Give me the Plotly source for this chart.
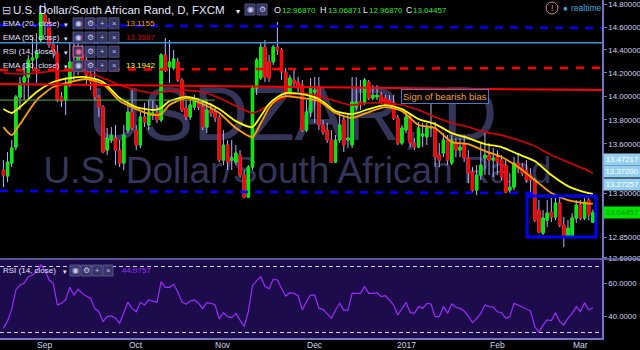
import math
import numpy as np
import pandas as pd
import plotly.graph_objects as go

# ---------------- data ----------------
DATES = pd.bdate_range("2016-08-18", "2017-03-06") + pd.Timedelta(hours=12)

OPEN = [13.386, 13.337, 13.443, 13.574, 13.993, 14.121, 14.164, 14.311, 14.329, 14.486,
        14.708, 14.645, 14.442, 14.372, 13.993, 13.967, 14.095, 14.294, 14.224, 14.355,
        14.311, 14.181, 14.138, 13.993, 13.908, 13.549, 13.632, 13.648, 13.549, 13.443,
        13.715, 13.866, 13.715, 13.591, 13.824, 13.757, 13.849, 13.858, 13.799, 14.355,
        14.250, 14.242, 14.294, 14.138, 13.900, 13.824, 13.908, 13.950, 13.908, 13.740,
        13.883, 13.866, 13.816, 13.467, 13.591, 13.467, 13.451, 13.508, 13.345, 13.168,
        13.410, 14.069, 14.155, 14.424, 14.294, 14.294, 14.424, 14.398, 14.207, 14.035,
        14.138, 14.121, 14.095, 13.715, 13.866, 14.035, 14.069, 13.757, 13.715, 13.632,
        13.451, 13.632, 13.799, 13.632, 13.591, 13.908, 13.950, 13.950, 14.121, 13.984,
        13.993, 14.010, 13.984, 13.967, 13.942, 13.816, 13.607, 13.715, 13.824, 13.607,
        13.574, 13.665, 13.657, 13.732, 13.732, 13.508, 13.525, 13.632, 13.443, 13.615,
        13.549, 13.607, 13.484, 13.369, 13.224, 13.345, 13.484, 13.508, 13.467, 13.492,
        13.467, 13.426, 13.224, 13.248, 13.443, 13.410, 13.386, 13.345, 13.305, 13.064,
        12.883, 12.985, 13.048, 13.009, 13.120, 12.946, 12.852, 12.852, 13.001, 13.104,
        13.001, 13.144, 12.96870]
HIGH = [13.467, 13.533, 13.632, 14.010, 14.164, 14.285, 14.355, 14.512, 14.548, 14.797,
        14.815, 14.681, 14.486, 14.442, 14.035, 14.164, 14.460, 14.548, 14.548, 14.442,
        14.398, 14.250, 14.250, 14.010, 13.925, 13.732, 13.740, 13.757, 13.632, 13.757,
        13.967, 14.052, 13.757, 13.866, 13.942, 13.967, 13.967, 13.925, 14.372, 14.504,
        14.486, 14.398, 14.329, 14.155, 13.967, 13.967, 14.010, 13.984, 13.967, 13.967,
        13.942, 13.900, 13.841, 13.715, 13.632, 13.632, 13.591, 13.549, 13.386, 13.426,
        14.095, 14.329, 14.468, 14.486, 14.355, 14.442, 14.645, 14.416, 14.242, 14.181,
        14.224, 14.164, 14.138, 13.967, 14.155, 14.164, 14.164, 13.799, 13.774, 13.715,
        13.673, 13.858, 13.841, 13.858, 14.164, 14.164, 14.138, 14.155, 14.138, 14.095,
        14.095, 14.035, 14.010, 14.010, 14.010, 13.841, 13.757, 13.866, 13.858, 13.648,
        13.782, 13.774, 13.774, 13.984, 13.782, 13.607, 13.690, 13.673, 13.673, 13.648,
        13.648, 13.673, 13.549, 13.410, 13.426, 13.607, 13.690, 13.607, 13.566, 13.549,
        13.508, 13.467, 13.361, 13.492, 13.525, 13.443, 13.467, 13.402, 13.321, 13.144,
        13.064, 13.144, 13.160, 13.160, 13.160, 13.009, 12.985, 13.040, 13.144, 13.144,
        13.160, 13.160, 13.06871]
LOW = [13.248, 13.288, 13.410, 13.549, 13.883, 13.967, 13.984, 14.224, 14.112, 14.468,
       14.530, 14.416, 14.329, 13.950, 13.908, 13.841, 14.078, 14.138, 14.181, 14.242,
       14.095, 14.052, 13.967, 13.824, 13.525, 13.508, 13.607, 13.426, 13.410, 13.386,
       13.690, 13.715, 13.549, 13.566, 13.740, 13.715, 13.799, 13.774, 13.782, 14.207,
       14.112, 14.224, 14.121, 13.866, 13.799, 13.799, 13.883, 13.883, 13.715, 13.690,
       13.824, 13.782, 13.451, 13.426, 13.386, 13.386, 13.426, 13.321, 13.160, 13.160,
       13.386, 14.010, 14.138, 14.121, 14.121, 14.268, 14.355, 14.138, 14.010, 14.010,
       14.069, 14.035, 13.698, 13.698, 13.824, 13.774, 13.715, 13.673, 13.607, 13.443,
       13.443, 13.607, 13.533, 13.566, 13.566, 13.883, 13.883, 13.925, 13.967, 13.967,
       13.967, 13.934, 13.925, 13.900, 13.799, 13.591, 13.591, 13.690, 13.574, 13.549,
       13.566, 13.574, 13.591, 13.657, 13.410, 13.410, 13.492, 13.426, 13.426, 13.492,
       13.492, 13.451, 13.280, 13.200, 13.184, 13.305, 13.345, 13.345, 13.329, 13.345,
       13.305, 13.200, 13.200, 13.224, 13.361, 13.337, 13.288, 13.200, 12.969, 12.883,
       12.867, 12.930, 12.969, 12.985, 12.930, 12.774, 12.844, 12.844, 12.961, 12.985,
       12.985, 12.985, 12.96870]
CLOSE = [13.345, 13.451, 13.566, 13.993, 14.112, 14.164, 14.311, 14.329, 14.381, 14.725,
         14.645, 14.442, 14.381, 13.967, 13.959, 14.095, 14.294, 14.224, 14.355, 14.311,
         14.181, 14.121, 13.993, 13.908, 13.533, 13.648, 13.673, 13.549, 13.443, 13.673,
         13.866, 13.732, 13.591, 13.824, 13.782, 13.866, 13.858, 13.799, 14.355, 14.224,
         14.294, 14.320, 14.138, 13.883, 13.824, 13.925, 13.967, 13.908, 13.740, 13.883,
         13.858, 13.816, 13.467, 13.591, 13.451, 13.484, 13.525, 13.345, 13.168, 13.410,
         14.069, 14.311, 14.424, 14.164, 14.155, 14.424, 14.398, 14.207, 14.035, 14.155,
         14.112, 14.069, 13.715, 13.866, 14.069, 14.052, 13.757, 13.698, 13.632, 13.451,
         13.632, 13.757, 13.591, 13.648, 13.950, 13.950, 13.934, 14.138, 13.984, 14.010,
         14.010, 13.950, 13.942, 13.917, 13.816, 13.607, 13.732, 13.824, 13.607, 13.574,
         13.732, 13.682, 13.732, 13.740, 13.492, 13.467, 13.632, 13.467, 13.632, 13.549,
         13.574, 13.484, 13.361, 13.224, 13.345, 13.426, 13.508, 13.467, 13.484, 13.451,
         13.329, 13.208, 13.248, 13.443, 13.402, 13.361, 13.305, 13.305, 12.985, 12.891,
         13.001, 13.040, 13.009, 13.120, 12.946, 12.852, 12.922, 13.001, 13.104, 13.001,
         13.128, 13.025, 13.04457]

EMA_IDX = [0, 2, 4, 8, 12, 16, 20, 24, 28, 32, 36, 38, 40, 44, 48, 52, 56, 60, 62, 64, 66,
           68, 72, 76, 80, 84, 88, 92, 96, 100, 104, 108, 112, 116, 120, 124, 128, 132, 136,
           140, 142]
EMA30 = [13.891, 13.858, 13.908, 14.035, 14.121, 14.155, 14.164, 14.121, 13.984, 13.908,
         13.883, 13.900, 13.959, 13.993, 13.959, 13.891, 13.790, 13.740, 13.832, 13.934,
         13.993, 14.027, 14.018, 13.976, 13.874, 13.849, 13.891, 13.925, 13.891, 13.807,
         13.765, 13.690, 13.648, 13.599, 13.574, 13.516, 13.459, 13.345, 13.256, 13.208,
         13.1942]
EMA20 = [13.740, 13.673, 13.765, 13.967, 14.078, 14.121, 14.147, 14.104, 13.959, 13.891,
         13.841, 13.849, 13.925, 13.984, 13.934, 13.858, 13.732, 13.657, 13.774, 13.900,
         13.976, 14.001, 13.984, 13.959, 13.858, 13.816, 13.866, 13.908, 13.874, 13.757,
         13.732, 13.615, 13.599, 13.541, 13.492, 13.410, 13.305, 13.200, 13.144, 13.120,
         13.1155]
EMA55_IDX = [0, 4, 8, 12, 16, 20, 24, 28, 32, 36, 40, 44, 48, 52, 56, 60, 62, 64, 68, 72,
             76, 80, 84, 88, 92, 96, 100, 104, 108, 112, 116, 120, 124, 128, 132, 136, 140, 142]
EMA55 = [14.198, 14.190, 14.198, 14.216, 14.216, 14.207, 14.155, 14.095, 14.052, 14.027,
         14.044, 14.052, 14.035, 13.984, 13.917, 13.858, 13.883, 13.925, 13.993, 14.027,
         14.001, 13.959, 13.925, 13.942, 13.942, 13.925, 13.883, 13.824, 13.774, 13.740,
         13.698, 13.673, 13.632, 13.582, 13.508, 13.451, 13.394, 13.3587]

RSI = [32.5, 37.0, 44.0, 55.8, 58.8, 59.8, 63.8, 64.8, 66.9, 70.9,
       67.9, 61.8, 59.8, 46.7, 47.7, 49.7, 57.4, 52.7, 56.2, 53.7,
       52.0, 50.7, 44.6, 42.6, 36.6, 39.6, 40.0, 38.6, 35.6, 42.6,
       48.3, 44.6, 42.6, 48.3, 46.7, 49.7, 49.1, 48.3, 60.8, 57.4,
       57.4, 59.2, 54.7, 48.7, 47.1, 49.1, 49.7, 47.7, 44.6, 48.1,
       47.7, 46.7, 38.2, 42.0, 39.6, 39.0, 41.6, 37.6, 33.5, 42.6,
       58.2, 61.4, 63.8, 58.0, 56.5, 62.2, 61.8, 56.8, 52.1, 54.1,
       53.7, 52.3, 43.6, 48.7, 52.7, 52.7, 44.6, 44.0, 41.6, 38.6,
       43.6, 47.7, 43.6, 43.6, 53.7, 53.7, 53.7, 57.8, 53.7, 53.7,
       54.1, 51.7, 52.3, 49.7, 46.7, 40.6, 44.6, 48.3, 42.0, 41.6,
       45.7, 44.6, 47.7, 47.3, 39.6, 39.6, 45.7, 41.6, 47.3, 45.3,
       44.6, 43.0, 40.0, 36.0, 38.5, 41.6, 46.7, 45.7, 45.3, 42.6,
       42.0, 38.6, 39.6, 47.7, 46.7, 45.5, 44.6, 43.0, 33.5, 30.1,
       34.5, 37.6, 37.2, 42.0, 36.6, 34.5, 38.6, 41.6, 45.7, 42.6,
       48.1, 43.6, 44.9757]

MONTH_IDX = [10, 32, 53, 75, 97, 119, 139]
MONTH_LABELS = ["Sep", "Oct", "Nov", "Dec", "2017", "Feb", "Mar"]
PRICE_TICKS = [14.8, 14.6, 14.4, 14.2, 14.0, 13.8, 13.6, 13.2, 12.85, 12.69]
RSI_TICKS = [60, 40]
RSI_BANDS = [70, 30]
PRICE_TAGS = [13.47217, 13.37200, 13.27257]
LAST_PRICE = 13.04457

# drawings (price levels)
TOP_BLUE = [14.619, 14.592]
MID_BLUE = [14.462, 14.462]
RED_DASH = [14.224, 14.244]
RED_LINE = [14.104, 14.052]
GREEN_LINE = [13.967, 13.967]
GREEN_END_IDX = 51
LOW_BLUE = [13.218, 13.200]
LOW_BLUE_END_IDX = 128
BOX_PRICE = [13.176, 12.852]
BOX_IDX = [126, 142]
NOTE_PRICE = 14.0
NOTE_IDX = 106

LEGEND_ROWS = [("EMA (20, close)", "13.1155", "#ff9900"),
               ("EMA (55, close)", "13.3587", "#d00000"),
               ("RSI (14, close)", "", ""),
               ("EMA (30, close)", "13.1942", "#ffff00")]

# ---------------- styling ----------------
FONT = "Liberation Sans, Arial, sans-serif"
AXIS = "#7474c4"
TICKTXT = "#d2d2f4"
WICK = "#b4b4ff"
UP = "#00ee00"
DOWN = "#ff0000"
RSI_C = "#9d2bff"
RSI_BG = "#1c0c4c"
WM = "#35355a"

PW, PH = 602, 338


def xp(x):
    return x / PW


def yp(y):
    return 1 - y / PH


def d(ts):
    return pd.Timestamp(ts).strftime("%Y-%m-%d %H:%M:%S")


X0 = DATES[0] - pd.Timedelta(days=0.82)
X1 = DATES[-1] + pd.Timedelta(days=2.2)

o = np.array(OPEN)
c = np.array(CLOSE)

fig = go.Figure()
# wicks (drawn underneath)
fig.add_trace(go.Candlestick(
    x=DATES, open=OPEN, high=HIGH, low=LOW, close=CLOSE,
    increasing=dict(line=dict(color=WICK, width=1), fillcolor=WICK),
    decreasing=dict(line=dict(color=WICK, width=1), fillcolor=WICK),
    hoverinfo="skip", showlegend=False))
# bodies
fig.add_trace(go.Candlestick(
    x=DATES, open=OPEN, close=CLOSE, high=np.maximum(o, c), low=np.minimum(o, c),
    increasing=dict(line=dict(color=UP, width=1), fillcolor=UP),
    decreasing=dict(line=dict(color=DOWN, width=1), fillcolor=DOWN),
    hoverinfo="skip", showlegend=False))

fig.add_trace(go.Scatter(x=[DATES[i] for i in EMA55_IDX], y=EMA55, mode="lines",
                         line=dict(color="#dd0000", width=1.6, shape="spline", smoothing=0.6),
                         showlegend=False, hoverinfo="skip"))
fig.add_trace(go.Scatter(x=[DATES[i] for i in EMA_IDX], y=EMA30, mode="lines",
                         line=dict(color="#ffff00", width=1.8, shape="spline", smoothing=0.6),
                         showlegend=False, hoverinfo="skip"))
fig.add_trace(go.Scatter(x=[DATES[i] for i in EMA_IDX], y=EMA20, mode="lines",
                         line=dict(color="#ffa000", width=1.8, shape="spline", smoothing=0.6),
                         showlegend=False, hoverinfo="skip"))
fig.add_trace(go.Scatter(x=DATES, y=RSI, mode="lines", xaxis="x2", yaxis="y2",
                         line=dict(color=RSI_C, width=1.2), showlegend=False, hoverinfo="skip"))

shapes = []
annotations = []

# RSI pane background + bands
shapes.append(dict(type="rect", xref="paper", yref="y2 domain", x0=0, x1=1, y0=0, y1=1,
                   fillcolor=RSI_BG, line=dict(width=0), layer="below"))
for b in RSI_BANDS:
    shapes.append(dict(type="line", xref="paper", yref="y2", x0=0, x1=1, y0=b, y1=b,
                       line=dict(color="#d0d0f0", width=1, dash="4px,3px"), layer="below"))

# pane separator running under the price scale too
shapes.append(dict(type="line", xref="paper", yref="paper", x0=0, x1=640 / PW,
                   y0=yp(259), y1=yp(259), line=dict(color=AXIS, width=1.5)))

# watermarks
shapes.append(dict(type="rect", xref="paper", yref="paper", x0=xp(70), x1=xp(515),
                   y0=yp(145), y1=yp(68), line=dict(width=0), fillcolor="rgba(0,0,0,0)",
                   layer="below",
                   label=dict(text="USDZAR, D", textposition="middle center",
                              font=dict(size=76, color=WM, family=FONT))))
shapes.append(dict(type="rect", xref="paper", yref="paper", x0=xp(20), x1=xp(575),
                   y0=yp(186), y1=yp(146), line=dict(width=0), fillcolor="rgba(0,0,0,0)",
                   layer="below",
                   label=dict(text="U.S. Dollar/South African Rand", textposition="middle center",
                              font=dict(size=37, color=WM, family=FONT))))

# drawings
def level(p, color, width, dash=None, x_end=None):
    shapes.append(dict(type="line", xref="x", yref="y", x0=d(X0), x1=d(x_end if x_end is not None else X1),
                       y0=p[0], y1=p[1], line=dict(color=color, width=width, dash=dash or "solid")))

level(TOP_BLUE, "#0000ff", 2.5, "8px,7px")
level(MID_BLUE, "#3a96dc", 1.5)
level(RED_DASH, "#ff0000", 2.5, "8px,8px")
level(RED_LINE, "#ff0000", 2)
level(GREEN_LINE, "#4caf50", 1, x_end=DATES[GREEN_END_IDX])
level(LOW_BLUE, "#0000ff", 2.5, "8px,7px", x_end=DATES[LOW_BLUE_END_IDX] + pd.Timedelta(days=0.3))

shapes.append(dict(type="rect", xref="x", yref="y",
                   x0=d(DATES[BOX_IDX[0]] + pd.Timedelta(days=0.15)),
                   x1=d(DATES[BOX_IDX[1]] + pd.Timedelta(days=0.75)),
                   y0=BOX_PRICE[0], y1=BOX_PRICE[1], line=dict(color="#0000ff", width=3)))

annotations.append(dict(xref="x", yref="y", x=d(DATES[NOTE_IDX] + pd.Timedelta(days=0.49)),
                        y=math.log10(NOTE_PRICE), text="Sign of bearish bias", showarrow=False,
                        font=dict(size=9.5, color="#f0a020", family=FONT), bgcolor="#000000",
                        bordercolor="#4a78d0", borderwidth=1, borderpad=1))


def txt(x, y, s, color, size, anchor="left", **kw):
    annotations.append(dict(xref="paper", yref="paper", x=xp(x), y=yp(y), text=s, showarrow=False,
                            xanchor=anchor, yanchor="middle",
                            font=dict(size=size, color=color, family=FONT), **kw))


def icon(x, y, glyph, color="#c8c8ec", edge="#5a5a92"):
    shapes.append(dict(type="rect", xref="paper", yref="paper", x0=xp(x), x1=xp(x + 10),
                       y0=yp(y + 5.5), y1=yp(y - 5.5), fillcolor="#3a3a6c", opacity=0.9,
                       line=dict(color=edge, width=1)))
    txt(x + 5, y, glyph, color, 7.5, anchor="center")


GLYPHS = ["◉", "⚙", "+", "×"]

# title row
txt(0, 10, "⊟", "#c8c8e8", 11)
txt(11, 10, "U.S. Dollar/South African Rand, D, FXCM", "#e6e6ff", 11.5)
txt(234, 11, "▾", "#e6e6ff", 8)
icon(245, 9.5, GLYPHS[0])
icon(257, 9.5, GLYPHS[1])
for lx, lab, vx, val in [(272, "O", 280, "12.96870"), (318, "H", 326, "13.06871"),
                         (361, "L", 367, "12.96870"), (404, "C", 411, "13.04457")]:
    txt(lx, 10, lab, "#e6e6ff", 9)
    txt(vx, 10, val, "#22ee22", 8)

# indicator legend rows
for k, (name, val, col) in enumerate(LEGEND_ROWS):
    yy = 23.3 + 14.2 * k
    txt(1, yy, name, "#e0e0ff", 8)
    txt(62, yy + 1, "▾", "#e0e0ff", 7)
    for j, g in enumerate(GLYPHS):
        if name.startswith("RSI") and j == 0:
            icon(73 + 12 * j, yy, g, color="#ff6fa0", edge="#ff6fa0")
        else:
            icon(73 + 12 * j, yy, g)
    if val:
        txt(124, yy, val, col, 8)

# RSI pane legend
txt(1, 270.5, "RSI (14, close)", "#e0e0ff", 8)
txt(61, 271.5, "▾", "#e0e0ff", 7)
for j, g in enumerate(GLYPHS):
    icon(70 + 11 * j, 270.5, g)
txt(120, 270.5, "44.9757", RSI_C, 8)

# realtime badge
shapes.append(dict(type="circle", xref="paper", yref="paper", x0=xp(546), x1=xp(558),
                   y0=yp(14), y1=yp(2), line=dict(color="#e08a8a", width=1)))
txt(552, 8, "!", "#e08a8a", 9, anchor="center")
txt(561, 8, "●", "#40aee0", 8)
txt(569, 8, "realtime", "#40aee0", 8.5)

# month labels under the RSI pane
for i, lab in zip(MONTH_IDX, MONTH_LABELS):
    annotations.append(dict(xref="x2", yref="paper", x=d(DATES[i]), y=yp(344.5),
                            xanchor="center", yanchor="middle", text=lab, showarrow=False,
                            font=dict(size=8.5, color=TICKTXT, family=FONT)))

# price tags on the right axis
for p in PRICE_TAGS:
    annotations.append(dict(xref="paper", yref="y", x=1, y=math.log10(p), xanchor="left",
                            yanchor="middle", xshift=1, text=f"{p:.5f}", showarrow=False,
                            bgcolor="#94cff2", width=36, height=11, borderpad=0,
                            font=dict(size=7.8, color="#ffffff", family=FONT)))
annotations.append(dict(xref="paper", yref="y", x=1, y=math.log10(LAST_PRICE), xanchor="left",
                        yanchor="middle", xshift=1, text=f"{LAST_PRICE:.5f}", showarrow=False,
                        bgcolor="#00e600", width=36, height=11, borderpad=0,
                        font=dict(size=7.8, color="#1f8a1f", family=FONT)))

fig.update_layout(
    width=640, height=350,
    margin=dict(l=0, r=640 - PW, t=0, b=350 - PH, autoexpand=False),
    paper_bgcolor="#000000", plot_bgcolor="#000000",
    showlegend=False, hovermode=False,
    boxmode="overlay", boxgap=0.45, boxgroupgap=0,
    shapes=shapes, annotations=annotations,
    font=dict(family=FONT, color=TICKTXT),
    xaxis=dict(type="date", domain=[0, 1], anchor="y", range=[d(X0), d(X1)],
               rangebreaks=[dict(bounds=["sat", "mon"])], rangeslider=dict(visible=False),
               showticklabels=False, showgrid=False, zeroline=False, automargin=False,
               showline=False),
    xaxis2=dict(type="date", domain=[0, 1], anchor="y2", matches="x",
                rangebreaks=[dict(bounds=["sat", "mon"])], rangeslider=dict(visible=False),
                showticklabels=False, ticks="", automargin=False,
                showgrid=False, zeroline=False, showline=True, linecolor=AXIS, linewidth=1.5),
    yaxis=dict(type="log", domain=[1 - 259 / PH, 1], anchor="x", side="right",
               range=[math.log10(12.682), math.log10(14.8423)],
               tickvals=PRICE_TICKS, ticktext=[f"{v:.5f}" for v in PRICE_TICKS],
               tickfont=dict(size=7.8, color=TICKTXT, family=FONT), automargin=False,
               ticks="outside", ticklen=3, tickcolor=AXIS, showgrid=False, zeroline=False,
               showline=True, linecolor=AXIS, linewidth=1.5),
    yaxis2=dict(domain=[0, 1 - 260 / PH], anchor="x2", side="right", range=[26.67, 73.94],
                tickvals=RSI_TICKS, ticktext=[f"{v:.4f}" for v in RSI_TICKS],
                tickfont=dict(size=7.8, color=TICKTXT, family=FONT), automargin=False,
                ticks="outside", ticklen=3, tickcolor=AXIS, showgrid=False, zeroline=False,
                showline=True, linecolor=AXIS, linewidth=1.5),
)

fig.write_html("out.html", config={"displayModeBar": False})
